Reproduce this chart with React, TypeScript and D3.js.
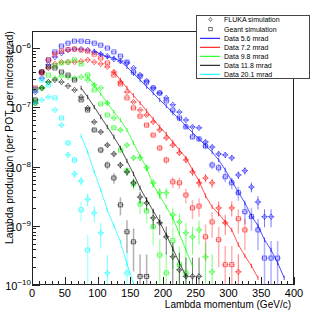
import React from "react";
import * as d3 from "d3";

// bin centres (GeV/c)
const momentum = [
  5, 15, 25, 35, 45, 55, 65, 75, 85, 95, 105, 115, 125, 135, 145, 155, 165, 175, 185, 195,
  205, 215, 225, 235, 245, 255, 265, 275, 285, 295, 305, 315, 325, 335, 345, 355, 365, 375, 385, 395,
];

// measured data, first value sits at the given momentum
const data56Start = 95;
const data56 = [
  8.9e-7, 7.9e-7, 7.05e-7, 6.8e-7, 6.0e-7, 4.8e-7, 3.7e-7, 2.9e-7, 2.23e-7, 1.74e-7, 1.33e-7, 1.05e-7,
  8.0e-8, 6.35e-8, 4.85e-8, 3.76e-8, 2.92e-8, 2.26e-8, 1.76e-8, 1.29e-8, 8.8e-9, 5.7e-9, 3.7e-9,
  2.43e-9, 1.47e-9, 1.0e-9, 5.8e-10, 3.9e-10, 2.37e-10, 1.32e-10,
];
const data72Start = 125;
const data72 = [
  3.94e-7, 2.89e-7, 2.12e-7, 1.58e-7, 1.18e-7, 8.7e-8, 6.35e-8, 4.66e-8, 3.55e-8, 2.6e-8, 1.9e-8, 1.4e-8,
  8.8e-9, 5.7e-9, 3.2e-9, 2.08e-9, 1.59e-9, 1.16e-9, 8.5e-10, 4.8e-10, 3.1e-10, 2.1e-10, 1.32e-10,
];
const data98Start = 85;
const data98 = [
  3.24e-7, 2.38e-7, 1.68e-7, 1.18e-7, 8.3e-8, 6.1e-8, 4.14e-8, 2.5e-8, 1.51e-8, 9.5e-9, 4.9e-9, 3.2e-9,
  2.08e-9, 1.36e-9, 7.3e-10, 3.9e-10, 2.1e-10,
];
const data118Start = 75;
const data118 = [
  2.12e-7, 1.49e-7, 1.01e-7, 6.86e-8, 4.66e-8, 3.16e-8, 2.06e-8, 1.24e-8, 7.5e-9, 4.35e-9, 2.73e-9,
  1.78e-9, 1.16e-9, 7.0e-10, 4.1e-10, 2.37e-10, 1.43e-10,
];
const data201Start = 75;
const data201 = [3.28e-8, 1.76e-8, 8.1e-9, 4.03e-9, 1.85e-9, 1.0e-9, 5.35e-10, 2.28e-10, 1.05e-10];

// FLUKA simulation, from the first bin (5 GeV/c)
const fluka56 = [
  1.81e-7, 3.1e-7, 5.2e-7, 7.05e-7, 8.2e-7, 9.25e-7, 9.6e-7, 9.6e-7, 9.25e-7, 8.6e-7, 7.9e-7, 7.3e-7,
  6.5e-7, 6.0e-7, 5.6e-7, 4.6e-7, 3.5e-7, 2.78e-7, 2.12e-7, 1.74e-7, 1.44e-7, 1.1e-7, 8.3e-8, 6.1e-8,
  4.66e-8, 4.5e-8, 2.6e-8, 2.13e-8, 1.63e-8, 1.57e-8, 1.4e-8, 7.2e-9, 8.5e-9, 4.5e-9, 2.52e-9, 1.42e-9,
  1.42e-9,
];
const fluka72 = [
  1.96e-7, 3.94e-7, 4.6e-7, 5.4e-7, 5.8e-7, 5.8e-7, 5.8e-7, 6.0e-7, 6.3e-7, 5.8e-7, 5.4e-7, 4.8e-7,
  3.94e-7, 2.67e-7, 1.81e-7, 1.23e-7, 9.0e-8, 7.4e-8, 5.65e-8, 4.14e-8, 3.04e-8, 2.3e-8, 1.7e-8,
  1.29e-8, 8.1e-9, 5.3e-9, 6.4e-9, 5.3e-9, 2.0e-9, 1.12e-9, 2.0e-9, 1.67e-10,
];
const fluka98 = [
  1.33e-7, 2.12e-7, 2.67e-7, 3.1e-7, 3.37e-7, 3.24e-7, 3.1e-7, 3.24e-7, 2.89e-7, 2.38e-7, 2.12e-7,
  1.18e-7, 6.6e-8, 4.14e-8, 2.3e-8, 1.4e-8, 1.4e-8, 9.5e-9, 5.3e-9, 3.6e-9, 3.6e-9, 1.53e-9, 1.16e-9,
  7.6e-10, 6.5e-10, 8.5e-10, 3.0e-10, 1.67e-10,
];
const fluka118 = [
  1.18e-7, 2.12e-7, 2.67e-7, 2.89e-7, 2.67e-7, 2.29e-7, 1.96e-7, 1.49e-7, 9.75e-8, 5.65e-8, 3.84e-8,
  2.3e-8, 1.63e-8, 1.06e-8, 8.1e-9, 5.3e-9, 3.05e-9, 2.43e-9, 1.36e-9, 1.12e-9, 6.5e-10, 3.0e-10,
  1.8e-10, 1.4e-10, 1.4e-10, 1.4e-10,
];
const fluka201 = [
  1.18e-7, 1.33e-7, 1.49e-7, 9.0e-8, 5.0e-8, 1.57e-8, 7.5e-9, 5.7e-9, 2.8e-9, 1.65e-9, 7.6e-10, 1.6e-10,
];

// Geant simulation, from the first bin (5 GeV/c)
const geant56 = [
  2.03e-7, 3.94e-7, 6.3e-7, 8.6e-7, 1.08e-6, 1.21e-6, 1.31e-6, 1.31e-6, 1.28e-6, 1.21e-6, 1.12e-6,
  1.0e-6, 8.6e-7, 7.3e-7, 5.8e-7, 3.94e-7, 3.37e-7, 2.67e-7, 2.12e-7, 1.74e-7, 1.28e-7, 9.0e-8, 6.6e-8,
  4.66e-8, 3.16e-8, 2.92e-8, 2.22e-8, 1.06e-8, 9.5e-9, 6.7e-9, 5.3e-9, 3.6e-9, 1.72e-9, 1.42e-9,
  8.5e-10, 2.85e-10, 2.85e-10, 2.85e-10,
];
const geant72 = [
  2.12e-7, 3.8e-7, 6.3e-7, 7.9e-7, 8.9e-7, 9.4e-7, 9.6e-7, 9.25e-7, 8.9e-7, 7.9e-7, 6.8e-7, 5.6e-7,
  3.5e-7, 2.47e-7, 1.44e-7, 9.75e-8, 7.1e-8, 5.0e-8, 3.4e-8, 2.06e-8, 1.29e-8, 5.5e-9, 5.3e-9, 3.3e-9,
  2.0e-9, 2.15e-9, 6.5e-10, 1.16e-9, 5.8e-10, 2.2e-10, 2.2e-10, 1.31e-9, 8.5e-10,
];
const geant98 = [
  1.18e-7, 2.12e-7, 3.5e-7, 5.0e-7, 5.6e-7, 5.8e-7, 6.3e-7, 5.4e-7, 3.5e-7, 1.96e-7, 1.14e-7, 7.4e-8,
  4.5e-8, 1.9e-8, 8.5e-9, 5.1e-9, 2.33e-9, 1.78e-9, 9.6e-10, 3.2e-10, 1.6e-10, 5.6e-10, 2.2e-10, 1.6e-10,
];
const geant118 = [
  1.33e-7, 3.94e-7, 4.8e-7, 4.6e-7, 3.94e-7, 3.5e-7, 2.89e-7, 1.33e-7, 9.0e-8, 4.14e-8, 1.9e-8, 1.06e-8,
  6.4e-9, 2.25e-9, 7.9e-10, 5.35e-10, 1.4e-10, 1.4e-10,
];
const geant201 = [
  1.96e-7, 2.89e-7, 2.38e-7, 1.44e-7, 6.6e-8, 2.5e-8, 1.29e-8, 1.86e-9, 3.9e-10, null, null, null, null,
  null, 1.6e-10,
];

const xTicks = [0, 50, 100, 150, 200, 250, 300, 350, 400];
const yDecades = [-10, -9, -8, -7, -6];

const angles = [
  { label: "Data 5.6 mrad", color: "#0000ff", data: data56, start: data56Start, fluka: fluka56, geant: geant56 },
  { label: "Data 7.2 mrad", color: "#ff0000", data: data72, start: data72Start, fluka: fluka72, geant: geant72 },
  { label: "Data 9.8 mrad", color: "#00ff00", data: data98, start: data98Start, fluka: fluka98, geant: geant98 },
  { label: "Data 11.8 mrad", color: "#000000", data: data118, start: data118Start, fluka: fluka118, geant: geant118 },
  { label: "Data 20.1 mrad", color: "#00ffff", data: data201, start: data201Start, fluka: fluka201, geant: geant201 },
];

const W = 327;
const H = 317;
const fr = { left: 32, right: 294, top: 31, bottom: 285 };
const font = "Liberation Sans, Arial, Helvetica, sans-serif";

const x = d3.scaleLinear().domain([0, 400]).range([fr.left, fr.right]);
const y = d3.scaleLog().domain([1e-10, 1.94e-6]).range([fr.bottom, fr.top]);
const yMin = 1e-10;

type Pt = { p: number; v: number };
const toPts = (vals: (number | null)[], start: number): Pt[] =>
  vals
    .map((v, i) => ({ p: start + (momentum[1] - momentum[0]) * i, v }))
    .filter((d) => d.v != null) as Pt[];

// rough statistical error of the simulations, larger for rarer bins
const simErr = (v: number, k: number) => k * Math.sqrt(1e-7 / v);

const ErrBars = ({ pts, color, k, width, opacity }: any) => (
  <g stroke={color} strokeWidth={width} opacity={opacity} fill="none">
    {pts.map((d: Pt, i: number) => {
      const r = simErr(d.v, k);
      const lo = r >= 1 ? yMin : Math.max(yMin, d.v * (1 - r));
      return (
        <g key={i}>
          <line x1={x(d.p)} x2={x(d.p)} y1={y(d.v * (1 + r))} y2={y(lo)} />
          <line x1={x(d.p - 5)} x2={x(d.p + 5)} y1={y(d.v)} y2={y(d.v)} />
        </g>
      );
    })}
  </g>
);

const diamondPath = (cx: number, cy: number, s = 1) =>
  `M${cx},${cy - 2.8 * s}L${cx + 2.2 * s},${cy}L${cx},${cy + 2.8 * s}L${cx - 2.2 * s},${cy}Z`;

const App = () => {
  const line = d3
    .line<Pt>()
    .x((d) => x(d.p))
    .y((d) => y(d.v));

  const minorY: number[] = [];
  yDecades.forEach((e) => {
    for (let m = 2; m <= 9; m++) {
      const v = m * Math.pow(10, e);
      if (v <= y.domain()[1]) minorY.push(v);
    }
  });
  const minorX = d3.range(0, 401, 10);

  return (
    <svg
      width={W}
      height={H}
      style={{ position: "absolute", left: 0, top: 0, background: "#fff" }}
      fontFamily={font}
    >
      <defs>
        <clipPath id="plot">
          <rect x={fr.left} y={fr.top} width={fr.right - fr.left} height={fr.bottom - fr.top} />
        </clipPath>
      </defs>

      <g clipPath="url(#plot)">
        {angles.map((a) => {
          const g = toPts(a.geant, momentum[0]);
          const f = toPts(a.fluka, momentum[0]);
          return (
            <g key={a.label}>
              <ErrBars pts={g} color={a.color} k={0.05} width={1.5} opacity={0.3} />
              <ErrBars pts={f} color={a.color} k={0.04} width={0.9} opacity={0.6} />
              <g fill="none" stroke={a.color} strokeWidth={0.75} opacity={0.75}>
                {g.map((d, i) => (
                  <rect key={i} x={x(d.p) - 2} y={y(d.v) - 2} width={4} height={4} />
                ))}
                {f.map((d, i) => (
                  <path key={i} d={diamondPath(x(d.p), y(d.v))} />
                ))}
              </g>
            </g>
          );
        })}
        {angles.map((a) => {
          const pts = toPts(a.data, a.start);
          return (
            <g key={a.label} stroke={a.color} fill="none" strokeWidth={0.8} opacity={0.85}>
              <path d={line(pts) || ""} />
              {pts.map((d, i) => (
                <line key={i} x1={x(d.p)} x2={x(d.p)} y1={y(d.v * 1.09)} y2={y(d.v / 1.09)} />
              ))}
            </g>
          );
        })}
      </g>

      {/* frame */}
      <rect
        x={fr.left + 0.5}
        y={fr.top + 0.5}
        width={fr.right - fr.left - 1}
        height={fr.bottom - fr.top - 1}
        fill="none"
        stroke="#222"
        strokeWidth={1}
      />

      {/* ticks, pointing into the frame */}
      <g stroke="#222" strokeWidth={1}>
        {minorX.map((v) => (
          <line
            key={v}
            x1={Math.round(x(v)) + 0.5}
            x2={Math.round(x(v)) + 0.5}
            y1={fr.bottom}
            y2={fr.bottom - (v % 50 === 0 ? 8 : 4)}
          />
        ))}
        {yDecades.map((e) => (
          <line
            key={e}
            x1={fr.left}
            x2={fr.left + 8}
            y1={Math.round(y(Math.pow(10, e))) + 0.5}
            y2={Math.round(y(Math.pow(10, e))) + 0.5}
          />
        ))}
        {minorY.map((v, i) => (
          <line
            key={i}
            x1={fr.left}
            x2={fr.left + 4}
            y1={Math.round(y(v)) + 0.5}
            y2={Math.round(y(v)) + 0.5}
          />
        ))}
      </g>

      <g fontSize={11} fill="#000">
        {xTicks.map((v) => (
          <text key={v} x={x(v)} y={297} textAnchor="middle">
            {v}
          </text>
        ))}
        {yDecades.map((e) => (
          <text key={e} x={31} y={y(Math.pow(10, e)) + 5} textAnchor="end">
            <tspan>10</tspan>
            <tspan dy={-5} fontSize={8}>
              {"\u2212" + Math.abs(e)}
            </tspan>
          </text>
        ))}
        <text x={fr.right - 3} y={307.5} textAnchor="end" fontSize={10}>
          Lambda momentum (GeV/c)
        </text>
        <text transform={`translate(12.5,${fr.top}) rotate(-90)`} textAnchor="end" fontSize={10.3}>
          Lambda production (per POT, per microsterad)
        </text>
      </g>

      {/* legend */}
      <g>
        <rect x={196.5} y={15.5} width={113} height={63} fill="#fff" stroke="#444" strokeWidth={1} />
        <g fontSize={7} fill="#000">
          <g stroke="#000" strokeWidth={0.7} fill="none" opacity={0.8}>
            <path d={diamondPath(210.5, 19.5, 0.7)} />
            <rect x={208.8} y={27.4} width={3.4} height={3.4} />
          </g>
          <text x={224} y={22}>FLUKA simulation</text>
          <text x={224} y={31.5}>Geant simulation</text>
          {angles.map((a, i) => {
            const cy = 38.3 + i * 9;
            return (
              <g key={a.label}>
                <line x1={200} x2={220} y1={cy} y2={cy} stroke={a.color} strokeWidth={1} />
                <text x={224} y={cy + 2.5}>
                  {a.label}
                </text>
              </g>
            );
          })}
        </g>
      </g>
    </svg>
  );
};

export default App;
